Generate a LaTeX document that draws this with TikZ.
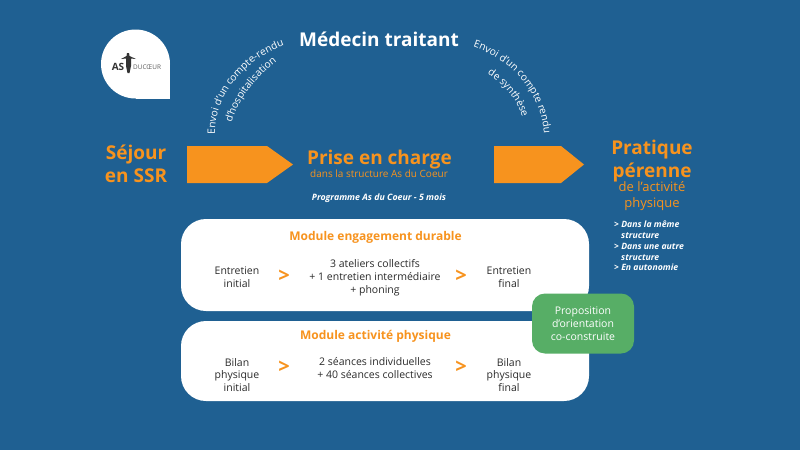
\documentclass[tikz,border=0pt]{standalone}
\usepackage{fontspec}
\setmainfont{Open Sans}
\usepackage{tikz}
\usetikzlibrary{decorations.text}

\definecolor{fond}{HTML}{1F6092}
\definecolor{orange1}{HTML}{F7931E}
\definecolor{vert1}{HTML}{57AE66}
\definecolor{texte1}{HTML}{2B2B2B}
\definecolor{logo1}{HTML}{333333}

\tikzset{
    carte/.style={fill=white, rounded corners=25pt, minimum width=408pt, inner sep=0pt},
    fleche/.style={fill=orange1},
    grand/.style={text=orange1, font=\fontsize{19}{23}\selectfont\bfseries, align=center, inner sep=0pt},
    sous/.style={text=orange1, font=\fontsize{13}{16}\selectfont, align=center, inner sep=0pt},
    titre/.style={text=orange1, font=\fontsize{12}{14}\selectfont\bfseries, inner sep=0pt},
    corps/.style={text=texte1, font=\fontsize{10.5}{12.8}\selectfont, align=center, inner sep=0pt},
    chevron/.style={text=orange1, font=\fontsize{20}{22}\selectfont\bfseries, inner sep=0pt},
    liste/.style={text=white, font=\fontsize{8.7}{10.9}\selectfont\bfseries\itshape, align=left, inner sep=0pt, anchor=north west},
    courbe/.style={decorate, decoration={text along path, text align=center, text={#1}}},
}
\newcommand{\petit}{\fontsize{10.2}{12}\selectfont\color{white}}

\begin{document}
\begin{tikzpicture}[x=1pt,y=-1pt]
    \fill[fond] (0,0) rectangle (800,450);

    % logo
    \fill[white] (135.5,64) circle (34.5);
    \fill[white] (135.5,64) rectangle (170,99);
    \fill[logo1] (121,59) -- (126.5,56) -- (127,53) -- (129,53) -- (129.5,56) -- (136,59) -- (131,58.5) -- (131,66) -- (129.5,73) -- (127.5,73) -- (126,66) -- (126,58.5) -- cycle;
    \node[text=logo1, inner sep=0pt, font=\fontsize{10}{12}\selectfont\bfseries] (as) at (118,66.5) {AS};
    \node[text=logo1!80, inner sep=0pt, font=\fontsize{6.4}{7}\selectfont, anchor=west] (ducoeur) at (133,67) {DUCŒUR};

    % haut
    \node[text=white, inner sep=0pt, font=\fontsize{19}{22}\selectfont\bfseries] (medecin) at (379,39) {Médecin traitant};

    \path[courbe={|\petit|Envoi d'un compte-rendu}] (215,133) .. controls (215,95) and (245,60) .. (283,46);
    \path[courbe={|\petit|d'hospitalisation}] (232,122) .. controls (238,100) and (255,78) .. (276,62);
    \path[courbe={|\petit|Envoi d'un compte rendu}] (474,47) .. controls (510,60) and (540,90) .. (544,133);
    \path[courbe={|\petit|de synthèse}] (485,72) .. controls (505,85) and (518,100) .. (523,120);

    % fleches
    \fill[fleche] (187,146) -- (267,146) -- (293,164.5) -- (267,183) -- (187,183) -- cycle;
    \fill[fleche] (494,146) -- (561,146) -- (584,164.5) -- (561,183) -- (494,183) -- cycle;

    \node[grand] (sejour) at (136,164) {Séjour\\en SSR};
    \node[grand] (prise) at (379.5,159.5) {Prise en charge};
    \node[sous, font=\fontsize{10}{12}\selectfont] (structure) at (379,174) {dans la structure As du Coeur};
    \node[text=white, inner sep=0pt, font=\fontsize{8.8}{10}\selectfont\bfseries\itshape] (programme) at (379,198.5) {Programme As du Coeur - 5 mois};

    \node[grand] (pratique) at (652,161) {Pratique\\pérenne};
    \node[sous] (activite) at (652,196.5) {de l'activité\\physique};
    \node[liste] (choix) at (614,220.5) {> Dans la même\\\hspace*{7pt}structure\\> Dans une autre\\\hspace*{7pt}structure\\> En autonomie};

    % modules
    \node[carte, minimum height=92pt] (engagement) at (385,265) {};
    \node[carte, minimum height=80pt] (physique) at (385,361) {};

    \node[titre] (titre1) at (375.5,237.5) {Module engagement durable};
    \node[corps] (initial1) at (237,277) {Entretien\\initial};
    \node[chevron] (sep1) at (284,276.5) {>};
    \node[corps] (ateliers) at (375,277.5) {3 ateliers collectifs\\+ 1 entretien intermédiaire\\+ phoning};
    \node[chevron] (sep2) at (461,276.5) {>};
    \node[corps] (final1) at (509,277) {Entretien\\final};

    \node[titre] (titre2) at (375.5,336) {Module activité physique};
    \node[corps] (initial2) at (237,375) {Bilan\\physique\\initial};
    \node[chevron] (sep3) at (284,367.5) {>};
    \node[corps] (seances) at (375,368) {2 séances individuelles\\+ 40 séances collectives};
    \node[chevron] (sep4) at (461,367.5) {>};
    \node[corps] (final2) at (509,375) {Bilan\\physique\\final};

    \node[fill=vert1, rounded corners=13pt, minimum width=102pt, minimum height=60pt, inner sep=0pt, text=white, align=center, font=\fontsize{10.5}{12.8}\selectfont] (orientation) at (583,323.5) {Proposition\\d'orientation\\co-construite};
\end{tikzpicture}
\end{document}
